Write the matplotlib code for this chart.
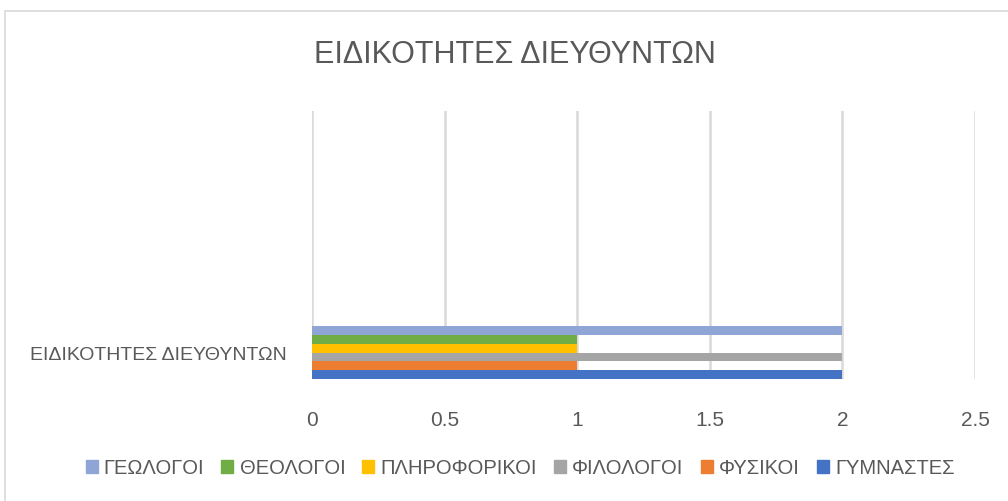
import matplotlib.pyplot as plt
from matplotlib.patches import Rectangle

plt.rcParams['font.family'] = ['Liberation Sans', 'DejaVu Sans']

title = 'ΕΙΔΙΚΟΤΗΤΕΣ ΔΙΕΥΘΥΝΤΩΝ'
category = 'ΕΙΔΙΚΟΤΗΤΕΣ ΔΙΕΥΘΥΝΤΩΝ'
series = ['ΓΥΜΝΑΣΤΕΣ', 'ΦΥΣΙΚΟΙ', 'ΦΙΛΟΛΟΓΟΙ', 'ΠΛΗΡΟΦΟΡΙΚΟΙ', 'ΘΕΟΛΟΓΟΙ', 'ΓΕΩΛΟΓΟΙ']
values = [2, 1, 2, 1, 1, 2]
colors = ['#4472C4', '#ED7D31', '#A5A5A5', '#FFC000', '#70AD47', '#8FA5D6']
xticks = [0, 0.5, 1, 1.5, 2, 2.5]
xticklabels = ['0', '0.5', '1', '1.5', '2', '2.5']

txt = '#595959'
grid = '#D9D9D9'

fig = plt.figure(figsize=(10.08, 5.02), dpi=100)
# chart border
fig.patches.append(Rectangle((5 / 1008, -0.01), 1.0, 1 - 12 / 502 + 0.01,
                             transform=fig.transFigure, fill=False,
                             edgecolor=grid, lw=1.2))

ax = fig.add_axes([312 / 1008, 1 - 380 / 502, (975 - 312) / 1008, (380 - 112) / 502])

for i, (name, v, c) in enumerate(zip(series, values, colors)):
    ax.barh(i, v, height=1.0, color=c, label=name, zorder=3)

ax.set_xlim(0, 2.5)
ax.set_ylim(-0.5, 29.85)
ax.set_xticks(xticks)
ax.set_xticklabels(xticklabels)
ax.set_yticks([2.5])
ax.set_yticklabels([category])
ax.tick_params(axis='x', length=0, labelsize=15, colors=txt, pad=22)
ax.tick_params(axis='y', length=0, labelsize=14, colors=txt, pad=18)
ax.grid(axis='x', color=grid, lw=1.8, zorder=0)
for s in ax.spines.values():
    s.set_visible(False)

fig.text(515 / 1008, 1 - 55 / 502, title, ha='center', va='center',
         fontsize=22, color=txt)

handles = [Rectangle((0, 0), 1, 1, color=c) for c in colors][::-1]
fig.legend(handles, series[::-1], loc='center', bbox_to_anchor=(520 / 1008, 1 - 469 / 502),
           ncol=6, frameon=False, fontsize=14.5, labelcolor=txt,
           handlelength=0.6, handleheight=0.6, handletextpad=0.3, columnspacing=0.85)

fig.savefig('out.png', dpi=100)
